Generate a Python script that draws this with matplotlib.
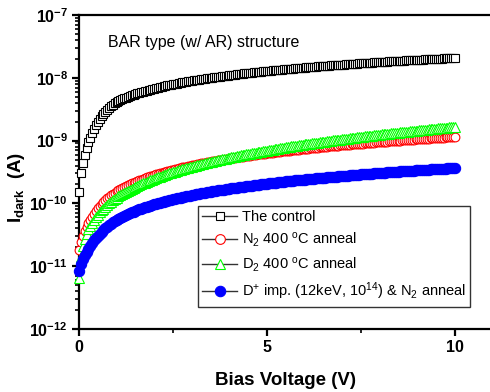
import numpy as np
import matplotlib
matplotlib.use("Agg")
import matplotlib.pyplot as plt
from matplotlib.lines import Line2D
from matplotlib.ticker import FixedLocator, FixedFormatter, NullFormatter

plt.rcParams['font.family'] = ['Liberation Sans', 'DejaVu Sans']
plt.rcParams['mathtext.fontset'] = 'custom'
plt.rcParams['mathtext.rm'] = 'Liberation Sans'
plt.rcParams['mathtext.bf'] = 'Liberation Sans:bold'
plt.rcParams['mathtext.it'] = 'Liberation Sans:italic'
plt.rcParams['mathtext.default'] = 'regular'

# ---------------- data ----------------
voltage = np.round(np.arange(0, 201) * 0.05, 2)  # 0.00 ... 10.00 V

# The control  (units of 1e-9 A)
control = [0.15, 0.30, 0.44, 0.60, 0.76, 0.94, 1.12, 1.33, 1.55, 1.78,
           2.00, 2.23, 2.45, 2.68, 2.90, 3.10, 3.30, 3.53, 3.75, 3.95,
           4.15, 4.30, 4.44, 4.58, 4.71, 4.85, 4.98, 5.12, 5.25, 5.38,
           5.51, 5.64, 5.77, 5.90, 6.02, 6.14, 6.26, 6.38, 6.50, 6.62,
           6.74, 6.86, 6.98, 7.10, 7.21, 7.32, 7.43, 7.55, 7.66, 7.77,
           7.88, 7.99, 8.10, 8.21, 8.32, 8.43, 8.53, 8.64, 8.74, 8.85,
           8.96, 9.06, 9.16, 9.27, 9.37, 9.47, 9.57, 9.68, 9.78, 9.88,
           9.98, 10.08, 10.18, 10.27, 10.37, 10.47, 10.57, 10.66, 10.76, 10.86,
           10.95, 11.05, 11.14, 11.24, 11.33, 11.43, 11.52, 11.62, 11.71, 11.80,
           11.89, 11.99, 12.08, 12.17, 12.26, 12.35, 12.44, 12.53, 12.62, 12.71,
           12.80, 12.89, 12.98, 13.07, 13.16, 13.25, 13.34, 13.43, 13.51, 13.60,
           13.69, 13.77, 13.86, 13.95, 14.04, 14.12, 14.21, 14.29, 14.38, 14.46,
           14.55, 14.63, 14.72, 14.80, 14.89, 14.97, 15.05, 15.14, 15.22, 15.30,
           15.38, 15.47, 15.55, 15.63, 15.72, 15.80, 15.88, 15.96, 16.04, 16.12,
           16.21, 16.28, 16.36, 16.45, 16.53, 16.60, 16.68, 16.77, 16.84, 16.93,
           17.01, 17.09, 17.16, 17.24, 17.32, 17.40, 17.48, 17.56, 17.63, 17.71,
           17.79, 17.87, 17.95, 18.03, 18.10, 18.18, 18.26, 18.33, 18.41, 18.49,
           18.56, 18.64, 18.72, 18.80, 18.87, 18.94, 19.02, 19.09, 19.17, 19.24,
           19.32, 19.39, 19.47, 19.55, 19.62, 19.70, 19.77, 19.85, 19.92, 19.99,
           20.06, 20.14, 20.21, 20.29, 20.36, 20.43, 20.50, 20.58, 20.65, 20.72,
           20.80]

# N2 400 C anneal  (units of 1e-10 A)
n2_anneal = [0.18, 0.24, 0.30, 0.36, 0.42, 0.48, 0.55, 0.61, 0.68, 0.75,
             0.83, 0.90, 0.98, 1.05, 1.13, 1.20, 1.27, 1.34, 1.41, 1.48,
             1.55, 1.61, 1.68, 1.75, 1.82, 1.88, 1.95, 2.02, 2.08, 2.15,
             2.21, 2.27, 2.33, 2.40, 2.46, 2.52, 2.59, 2.65, 2.71, 2.77,
             2.83, 2.89, 2.96, 3.02, 3.08, 3.14, 3.20, 3.26, 3.32, 3.38,
             3.44, 3.50, 3.56, 3.62, 3.68, 3.74, 3.80, 3.85, 3.91, 3.97,
             4.03, 4.09, 4.15, 4.20, 4.26, 4.32, 4.38, 4.44, 4.50, 4.55,
             4.61, 4.66, 4.72, 4.78, 4.84, 4.89, 4.95, 5.00, 5.06, 5.12,
             5.18, 5.23, 5.29, 5.34, 5.40, 5.45, 5.51, 5.56, 5.62, 5.68,
             5.74, 5.79, 5.85, 5.90, 5.96, 6.01, 6.07, 6.12, 6.18, 6.23,
             6.29, 6.34, 6.40, 6.45, 6.51, 6.56, 6.62, 6.67, 6.73, 6.78,
             6.84, 6.89, 6.94, 7.00, 7.05, 7.10, 7.16, 7.21, 7.27, 7.32,
             7.37, 7.42, 7.48, 7.53, 7.58, 7.63, 7.69, 7.74, 7.80, 7.85,
             7.90, 7.95, 8.01, 8.06, 8.11, 8.16, 8.22, 8.27, 8.32, 8.37,
             8.42, 8.47, 8.53, 8.58, 8.63, 8.68, 8.74, 8.79, 8.84, 8.89,
             8.94, 8.99, 9.05, 9.10, 9.15, 9.20, 9.25, 9.30, 9.35, 9.40,
             9.46, 9.51, 9.56, 9.61, 9.66, 9.71, 9.76, 9.81, 9.86, 9.91,
             9.96, 10.01, 10.06, 10.11, 10.16, 10.21, 10.27, 10.32, 10.37, 10.42,
             10.47, 10.52, 10.57, 10.62, 10.67, 10.72, 10.77, 10.82, 10.87, 10.92,
             10.97, 11.02, 11.07, 11.12, 11.17, 11.22, 11.27, 11.32, 11.37, 11.42,
             11.47]

# D2 400 C anneal  (units of 1e-10 A)
d2_anneal = [0.065, 0.14, 0.21, 0.27, 0.33, 0.385, 0.44, 0.495, 0.55, 0.605,
             0.661, 0.717, 0.773, 0.829, 0.885, 0.942, 0.999, 1.056, 1.114, 1.172,
             1.230, 1.288, 1.347, 1.406, 1.466, 1.526, 1.587, 1.647, 1.708, 1.769,
             1.831, 1.893, 1.956, 2.018, 2.081, 2.144, 2.208, 2.272, 2.337, 2.402,
             2.467, 2.533, 2.599, 2.665, 2.731, 2.798, 2.865, 2.932, 3.000, 3.068,
             3.136, 3.205, 3.274, 3.343, 3.413, 3.483, 3.553, 3.624, 3.695, 3.766,
             3.838, 3.910, 3.983, 4.055, 4.127, 4.200, 4.274, 4.348, 4.423, 4.497,
             4.572, 4.647, 4.722, 4.797, 4.873, 4.949, 5.026, 5.103, 5.180, 5.258,
             5.336, 5.414, 5.492, 5.570, 5.647, 5.727, 5.807, 5.887, 5.967, 6.047,
             6.127, 6.208, 6.290, 6.371, 6.453, 6.534, 6.615, 6.698, 6.782, 6.865,
             6.948, 7.031, 7.114, 7.199, 7.284, 7.369, 7.454, 7.539, 7.625, 7.711,
             7.797, 7.883, 7.970, 8.057, 8.145, 8.231, 8.317, 8.407, 8.497, 8.585,
             8.673, 8.761, 8.849, 8.939, 9.029, 9.118, 9.208, 9.300, 9.392, 9.484,
             9.576, 9.666, 9.756, 9.849, 9.942, 10.04, 10.13, 10.22, 10.31, 10.41,
             10.50, 10.60, 10.69, 10.79, 10.88, 10.98, 11.07, 11.17, 11.26, 11.36,
             11.46, 11.56, 11.65, 11.75, 11.85, 11.95, 12.04, 12.14, 12.23, 12.33,
             12.43, 12.54, 12.64, 12.74, 12.83, 12.94, 13.04, 13.14, 13.24, 13.34,
             13.44, 13.55, 13.65, 13.75, 13.85, 13.96, 14.06, 14.16, 14.26, 14.37,
             14.47, 14.57, 14.67, 14.78, 14.88, 14.99, 15.09, 15.20, 15.30, 15.41,
             15.52, 15.63, 15.73, 15.84, 15.95, 16.06, 16.16, 16.27, 16.37, 16.48,
             16.59]

# D+ imp. (12keV, 1e14) & N2 anneal  (units of 1e-11 A)
dplus_imp = [0.85, 1.10, 1.30, 1.50, 1.70, 1.90, 2.10, 2.35, 2.60, 2.82,
             3.05, 3.30, 3.55, 3.80, 4.04, 4.28, 4.51, 4.74, 4.97, 5.20,
             5.43, 5.66, 5.88, 6.10, 6.32, 6.54, 6.75, 6.97, 7.18, 7.39,
             7.60, 7.81, 8.02, 8.23, 8.43, 8.64, 8.85, 9.05, 9.25, 9.45,
             9.65, 9.85, 10.05, 10.25, 10.45, 10.65, 10.84, 11.04, 11.23, 11.43,
             11.62, 11.81, 12.00, 12.20, 12.39, 12.58, 12.77, 12.96, 13.14, 13.33,
             13.52, 13.71, 13.89, 14.08, 14.26, 14.45, 14.63, 14.81, 14.99, 15.18,
             15.36, 15.54, 15.72, 15.90, 16.08, 16.26, 16.44, 16.62, 16.80, 16.98,
             17.15, 17.33, 17.51, 17.69, 17.86, 18.04, 18.22, 18.40, 18.57, 18.75,
             18.92, 19.10, 19.27, 19.44, 19.61, 19.79, 19.96, 20.14, 20.31, 20.48,
             20.65, 20.82, 20.99, 21.16, 21.33, 21.50, 21.67, 21.84, 22.01, 22.18,
             22.35, 22.52, 22.69, 22.86, 23.02, 23.19, 23.36, 23.53, 23.69, 23.86,
             24.02, 24.19, 24.35, 24.52, 24.68, 24.85, 25.01, 25.18, 25.34, 25.50,
             25.66, 25.82, 25.98, 26.15, 26.31, 26.47, 26.63, 26.79, 26.95, 27.12,
             27.30, 27.46, 27.62, 27.78, 27.94, 28.10, 28.26, 28.42, 28.58, 28.74,
             28.90, 29.06, 29.22, 29.38, 29.54, 29.70, 29.86, 30.02, 30.18, 30.34,
             30.50, 30.66, 30.81, 30.97, 31.12, 31.28, 31.43, 31.59, 31.74, 31.90,
             32.05, 32.21, 32.36, 32.52, 32.67, 32.83, 32.98, 33.15, 33.31, 33.47,
             33.62, 33.78, 33.93, 34.09, 34.24, 34.39, 34.54, 34.70, 34.85, 35.00,
             35.15, 35.31, 35.46, 35.61, 35.76, 35.91, 36.06, 36.22, 36.37, 36.52,
             36.67]

series_labels = ['The control',
                 r'N$_2$ 400 $^{\mathrm{o}}$C anneal',
                 r'D$_2$ 400 $^{\mathrm{o}}$C anneal',
                 r'D$^{+}$ imp. (12keV, 10$^{14}$) & N$_2$ anneal']

x_ticks = [0, 5, 10]
x_tick_labels = ['0', '5', '10']
y_ticks = [1e-12, 1e-11, 1e-10, 1e-9, 1e-8, 1e-7]
y_tick_labels = [r'$\mathbf{10^{-12}}$', r'$\mathbf{10^{-11}}$', r'$\mathbf{10^{-10}}$',
                 r'$\mathbf{10^{-9}}$', r'$\mathbf{10^{-8}}$', r'$\mathbf{10^{-7}}$']
annotation = 'BAR type (w/ AR) structure'

# ---------------- figure ----------------
fig = plt.figure(figsize=(4.9, 3.92), dpi=100)
ax = fig.add_axes([79 / 490, 63 / 392, 413.6 / 490, 314 / 392])

ctrl = np.array(control) * 1e-9
n2 = np.array(n2_anneal) * 1e-10
d2 = np.array(d2_anneal) * 1e-10
dp = np.array(dplus_imp) * 1e-11

ax.plot(voltage, ctrl, ls='none', marker='s', ms=5.3, mfc='white', mec='black',
        mew=0.8, clip_on=False, zorder=3)
ax.plot(voltage, n2, ls='none', marker='o', ms=6.3, mfc='white', mec='#ff0000',
        mew=0.8, clip_on=False, zorder=3)
ax.plot(voltage, d2, ls='none', marker='^', ms=6.8, mfc='white', mec='#00ff00',
        mew=0.8, clip_on=False, zorder=3)
ax.plot(voltage, dp, ls='none', marker='o', ms=7.4, mfc='#0000ff', mec='#0000ff',
        mew=0.8, clip_on=False, zorder=3)

ax.set_yscale('log')
ax.set_xlim(0, 11)
ax.set_ylim(1e-12, 1e-7)

for side in ['left', 'bottom', 'top']:
    ax.spines[side].set_linewidth(1.6)
ax.spines['right'].set_visible(False)

ax.xaxis.set_major_locator(FixedLocator(x_ticks))
ax.xaxis.set_major_formatter(FixedFormatter(x_tick_labels))
ax.xaxis.set_minor_locator(FixedLocator([2.5, 7.5]))
ax.yaxis.set_major_locator(FixedLocator(y_ticks))
ax.yaxis.set_major_formatter(FixedFormatter(y_tick_labels))
minor_y = [m * 10.0 ** e for e in range(-12, -7) for m in range(2, 10)]
ax.yaxis.set_minor_locator(FixedLocator(minor_y))
ax.yaxis.set_minor_formatter(NullFormatter())

ax.tick_params(axis='both', which='major', direction='out', length=5, width=1.6,
               labelsize=11.5, pad=3)
ax.tick_params(axis='both', which='minor', direction='out', length=3, width=1.2)
ax.tick_params(top=False, right=False)
for lab in ax.get_xticklabels():
    lab.set_fontweight('bold')

ax.set_xlabel('Bias Voltage (V)', fontsize=13.5, fontweight='bold', labelpad=12)
ax.set_ylabel(r'$\mathbf{I_{dark}}$  (A)', fontsize=13.5, fontweight='bold')
ax.yaxis.set_label_coords(-0.125, 0.45)

ax.text(0.07, 0.914, annotation, transform=ax.transAxes, ha='left', va='center',
        fontsize=11.5)

handles = [
    Line2D([], [], color='#333333', lw=1, marker='s', ms=6, mfc='white', mec='black', mew=0.8),
    Line2D([], [], color='#333333', lw=1, marker='o', ms=7, mfc='white', mec='#ff0000', mew=0.8),
    Line2D([], [], color='#333333', lw=1, marker='^', ms=7.5, mfc='white', mec='#00ff00', mew=0.8),
    Line2D([], [], color='#333333', lw=1, marker='o', ms=7.5, mfc='#0000ff', mec='#0000ff', mew=0.8),
]
leg = ax.legend(handles, series_labels, loc='upper left',
                bbox_to_anchor=((198 - 79) / 413.6, 1 - (206 - 15) / 314),
                fontsize=10.5, frameon=True, fancybox=False, edgecolor='black',
                borderpad=0.3, labelspacing=0.45, handlelength=2.4, handletextpad=0.3,
                borderaxespad=0)
leg.get_frame().set_linewidth(1.0)

fig.savefig('out.png', dpi=100)
